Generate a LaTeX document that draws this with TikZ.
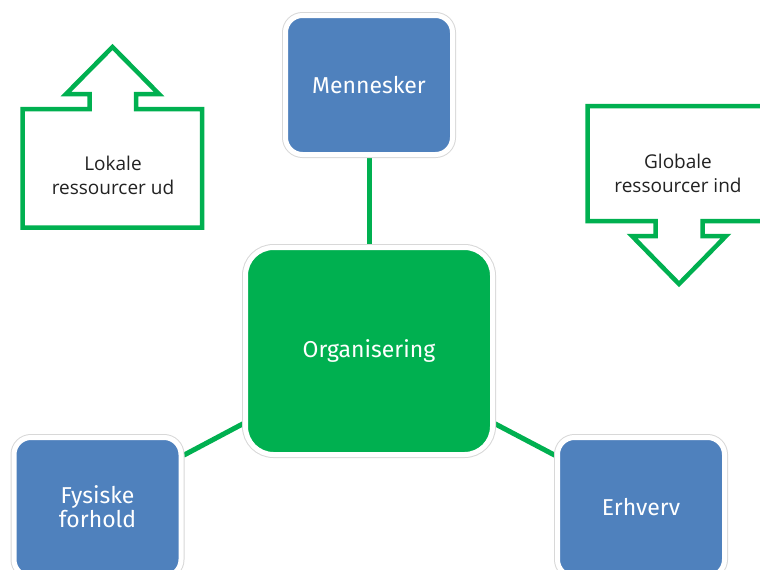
\documentclass[tikz,border=0pt]{standalone}
\usepackage{fontspec}
\setmainfont{Open Sans}
\newfontfamily\boxfont{Fira Sans}
\usetikzlibrary{backgrounds}
\definecolor{boxblue}{HTML}{4F81BD}
\definecolor{mygreen}{HTML}{00B050}
\definecolor{edgegray}{HTML}{D8D8D8}
\definecolor{txtgray}{HTML}{222222}
\tikzset{
  bluebox/.style={rectangle, rounded corners=17pt, fill=boxblue, draw=white, line width=5pt,
    preaction={draw=edgegray, line width=7pt},
    minimum width=167pt, minimum height=139pt, inner sep=0pt,
    text=white, font=\boxfont\fontsize{23}{24}\selectfont, align=center},
  greenbox/.style={bluebox, fill=mygreen, rounded corners=28pt, minimum width=247pt, minimum height=207pt},
  link/.style={draw=mygreen, line width=5pt},
  callout/.style={draw=mygreen, line width=4.5pt, fill=white, line join=miter},
  callouttext/.style={text=txtgray, font=\fontsize{19}{24}\selectfont, align=center, inner sep=0pt}
}
\begin{document}
\begin{tikzpicture}[x=1pt, y=-1pt]
\useasboundingbox (0,0) rectangle (760,570);
% up arrow callout
\draw[callout] (22.5,227.5) -- (22.5,109) -- (89.5,109) -- (89.5,94) -- (66,94) -- (112.5,47)
  -- (159,94) -- (136,94) -- (136,109) -- (202,109) -- (202,227.5) -- cycle;
\node[callouttext] (lokale) at (113,175) {Lokale\\ressourcer ud};
% down arrow callout
\draw[callout] (587.5,106) -- (770.5,106) -- (770.5,221) -- (702.5,221) -- (702.5,236) -- (726,236)
  -- (679,284) -- (632,236) -- (655.5,236) -- (655.5,221) -- (587.5,221) -- cycle;
\node[callouttext] (globale) at (678,173) {Globale\\ressourcer ind};
% boxes
\node[bluebox] (men) at (369,85) {Mennesker};
\node[greenbox] (org) at (369,351) {Organisering};
\node[bluebox] (fys) at (97.5,507) {Fysiske\\forhold};
\node[bluebox] (erh) at (641,507) {Erhverv};
\begin{pgfonlayer}{background}
\fill[white] (0,0) rectangle (760,570);
\draw[link] (men.south) -- (org.north);
\draw[link] (org.210) -- (fys.31);
\draw[link] (org.330) -- (erh.149);
\end{pgfonlayer}
\end{tikzpicture}
\end{document}
